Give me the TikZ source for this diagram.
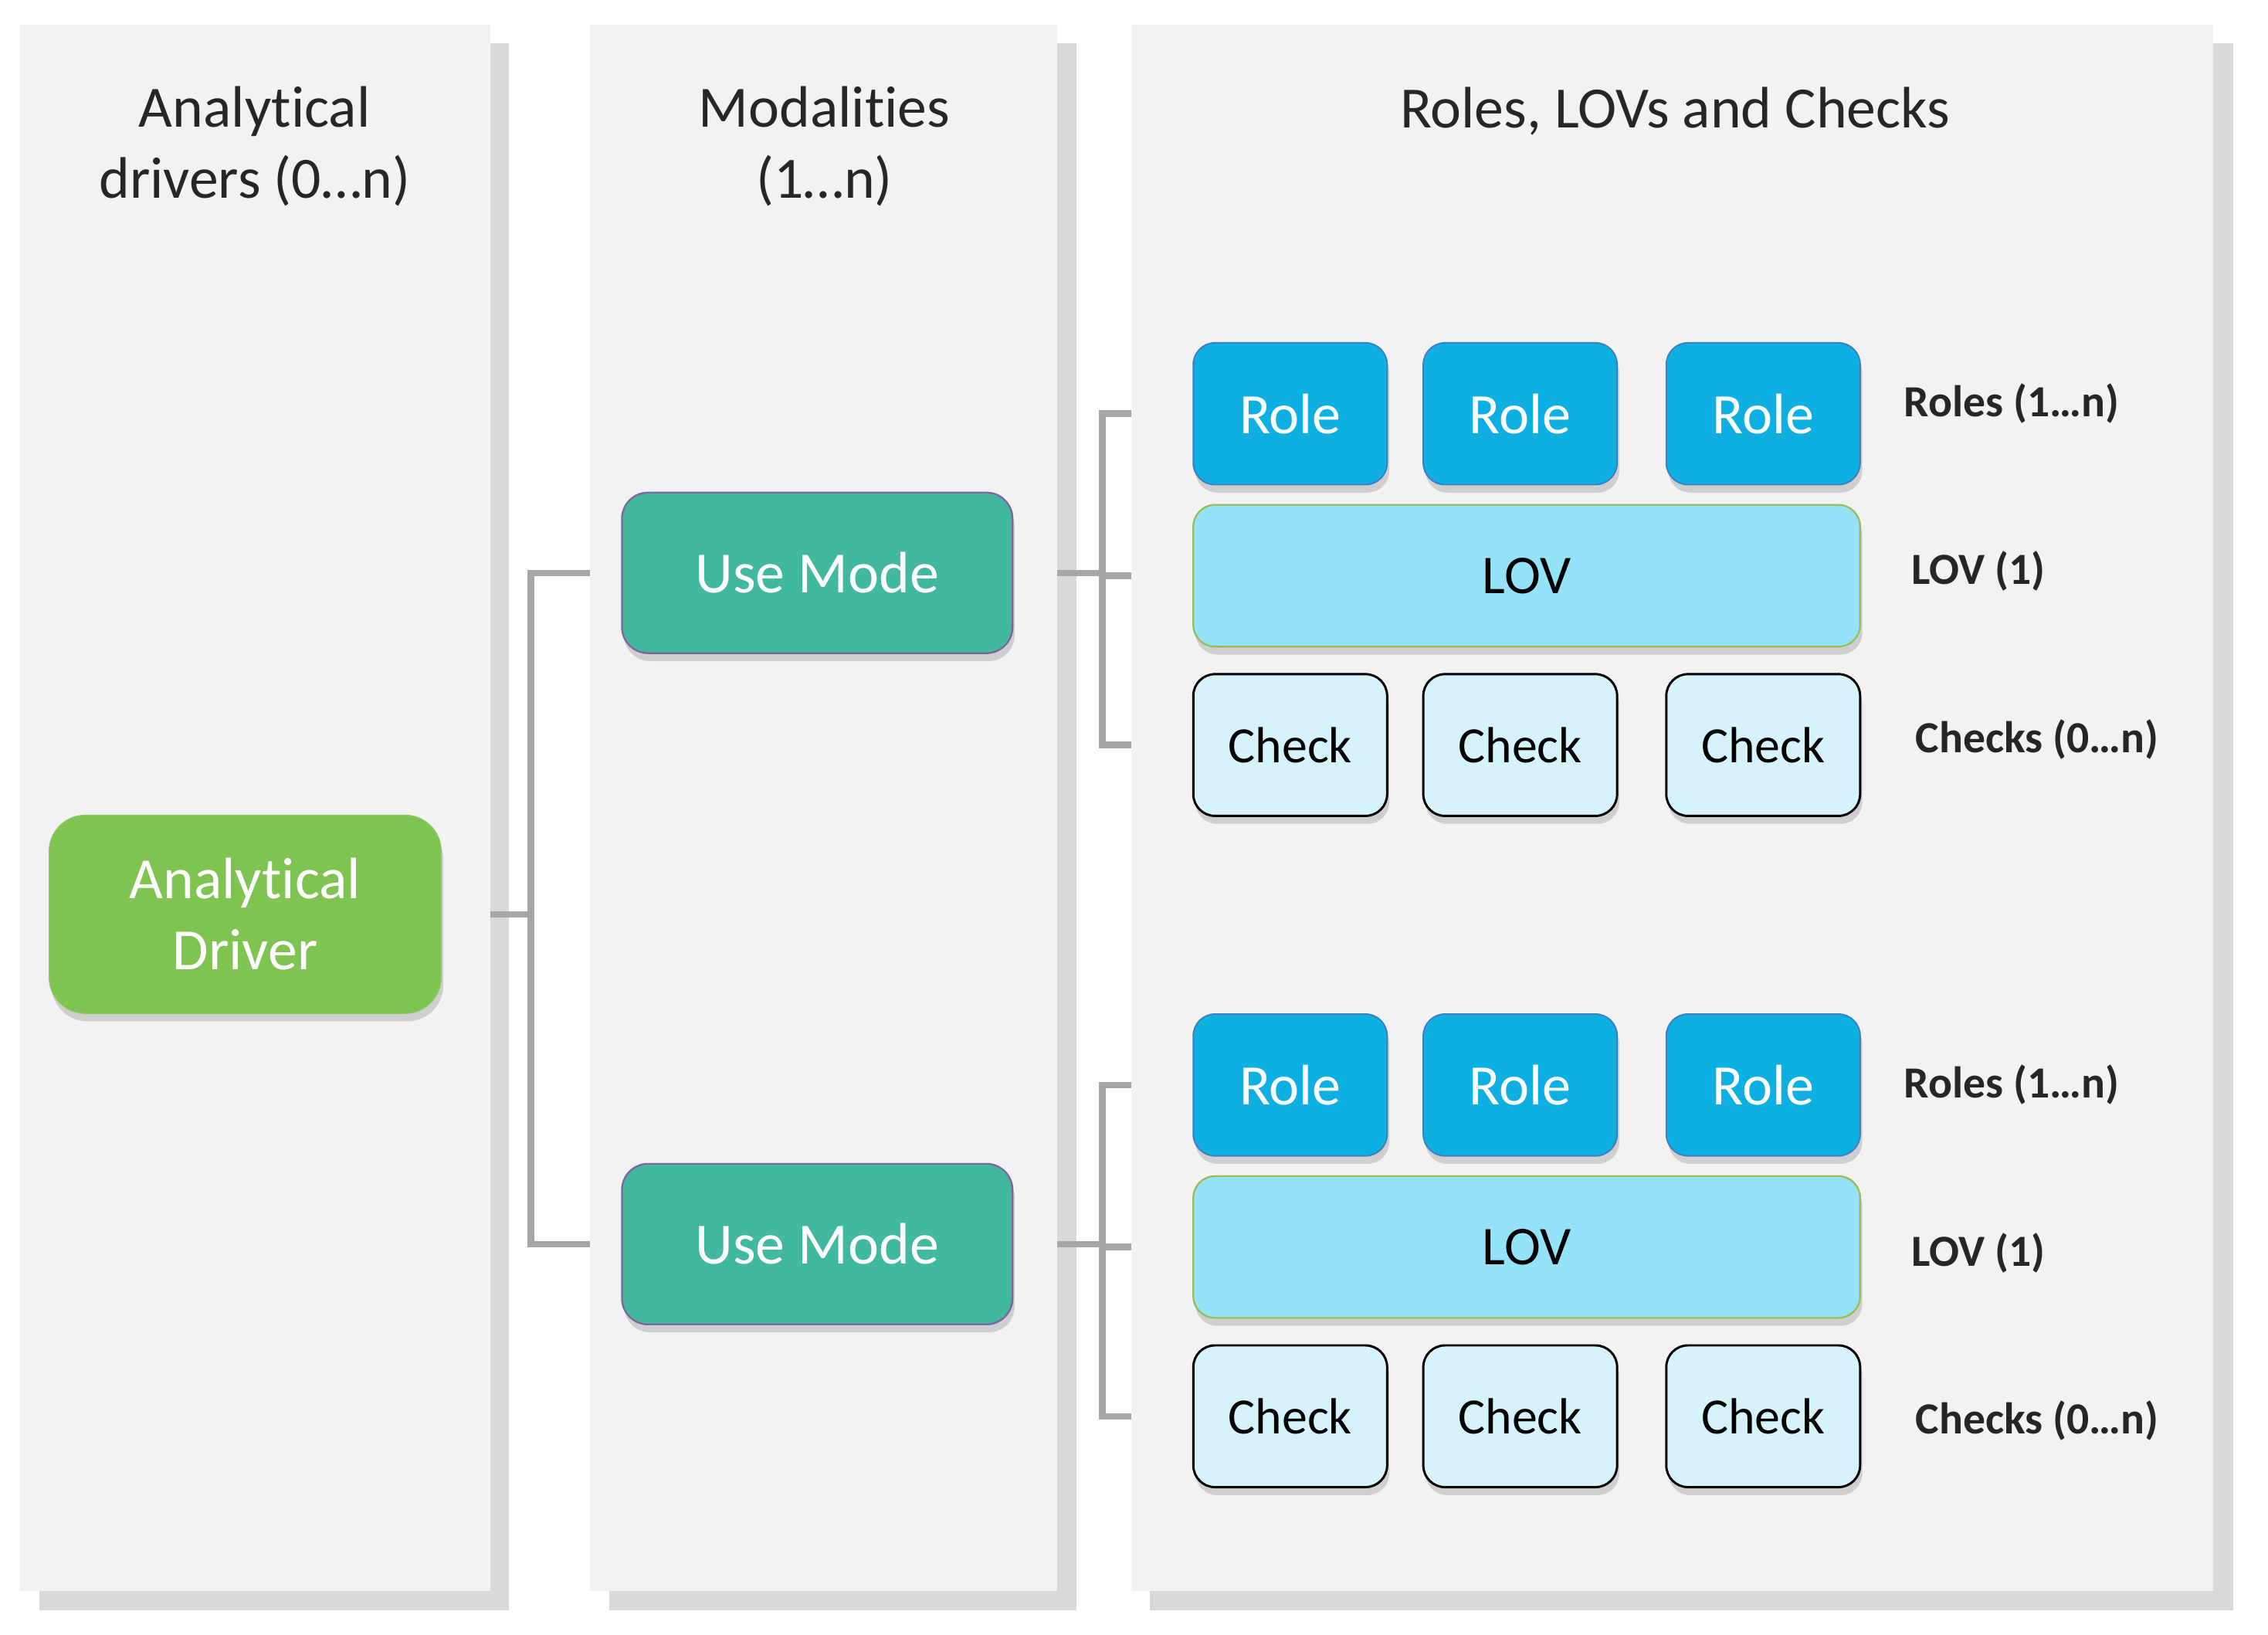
\documentclass[tikz,border=0pt]{standalone}
\usepackage{fontspec}
\setmainfont{Carlito}[Ligatures=NoCommon]
\usepackage{tikz}
\usetikzlibrary{positioning, backgrounds, shadows}
\definecolor{panelfill}{HTML}{F2F2F2}
\definecolor{panelshade}{HTML}{D9D9D9}
\definecolor{titletext}{HTML}{262626}
\definecolor{linkgray}{HTML}{A6A6A6}
\definecolor{drivergreen}{HTML}{7FC350}
\definecolor{modeteal}{HTML}{42B99E}
\definecolor{modeedge}{HTML}{8064A2}
\definecolor{roleblue}{HTML}{0DB0E0}
\definecolor{roleedge}{HTML}{3F7FBF}
\definecolor{lovblue}{HTML}{93E2F8}
\definecolor{lovedge}{HTML}{9BBB59}
\definecolor{checkblue}{HTML}{D6F3FB}
\tikzset{
	paneltitle/.style={font=\fontsize{23}{28}\selectfont\color{titletext}, align=center}
}
\tikzset{
	sidelabel/.style={font=\fontsize{17.5}{21}\selectfont\bfseries\color{titletext}, anchor=west, inner sep=0pt}
}

\begin{document}
\begin{tikzpicture}[x=0.2mm, y=-0.2mm,
    box/.style={inner sep=0pt, align=center, drop shadow={shadow xshift=0.3mm, shadow yshift=-1.1mm, opacity=0.3}},
    rolebox/.style={box, rounded corners=3mm, fill=roleblue, draw=roleedge, line width=0.6pt, text=white, minimum width=26.8mm, minimum height=19.6mm, font=\fontsize{22.5}{27}\selectfont},
    lovbox/.style={box, rounded corners=3mm, fill=lovblue, draw=lovedge, line width=0.7pt, minimum width=92.2mm, minimum height=19.6mm, font=\fontsize{21.5}{26}\selectfont},
    checkbox/.style={box, rounded corners=3mm, fill=checkblue, draw=black, line width=0.9pt, minimum width=26.8mm, minimum height=19.6mm, font=\fontsize{20}{24}\selectfont},
    modebox/.style={box, rounded corners=3.6mm, fill=modeteal, draw=modeedge, line width=0.7pt, text=white, minimum width=54mm, minimum height=22.2mm, font=\fontsize{23}{28}\selectfont},
    link/.style={linkgray, line width=0.9mm}]
      \useasboundingbox (0,0) rectangle (1568,1130);

      \node[paneltitle] (t1) at (176,101) {Analytical\\drivers (0…n)};
      \node[paneltitle] (t2) at (570,101) {Modalities\\(1…n)};
      \node[paneltitle] (t3) at (1158,77) {Roles, LOVs and Checks};

      \node[box, rounded corners=5mm, fill=drivergreen, draw=drivergreen!90!white, text=white, minimum width=54.2mm, minimum height=27.4mm, font=\fontsize{23}{28}\selectfont] (drv) at (169.5,632) {Analytical\\Driver};

      \node[modebox] (um1) at (565,396) {Use Mode};
      \node[modebox] (um2) at (565,860) {Use Mode};

      % first use mode
      \node[rolebox] (role11) at (892,286) {Role};
      \node[rolebox] (role12) at (1051,286) {Role};
      \node[rolebox] (role13) at (1219,286) {Role};
      \node[lovbox] (lov1) at (1055.5,398) {LOV};
      \node[checkbox] (check11) at (892,515) {Check};
      \node[checkbox] (check12) at (1051,515) {Check};
      \node[checkbox] (check13) at (1219,515) {Check};
      \node[sidelabel] (lr1) at (1316,279) {Roles (1…n)};
      \node[sidelabel] (ll1) at (1321,395) {LOV (1)};
      \node[sidelabel] (lc1) at (1324,511) {Checks (0…n)};

      % second use mode
      \node[rolebox] (role21) at (892,750) {Role};
      \node[rolebox] (role22) at (1051,750) {Role};
      \node[rolebox] (role23) at (1219,750) {Role};
      \node[lovbox] (lov2) at (1055.5,862) {LOV};
      \node[checkbox] (check21) at (892,979) {Check};
      \node[checkbox] (check22) at (1051,979) {Check};
      \node[checkbox] (check23) at (1219,979) {Check};
      \node[sidelabel] (lr2) at (1316,750) {Roles (1…n)};
      \node[sidelabel] (ll2) at (1321,866) {LOV (1)};
      \node[sidelabel] (lc2) at (1324,982) {Checks (0…n)};

      \begin{pgfonlayer}{background}
        \fill[white] (0,0) rectangle (1568,1130);
        \fill[panelshade] (27,30) rectangle (352,1113);
        \fill[panelshade] (421,30) rectangle (744,1113);
        \fill[panelshade] (795,30) rectangle (1544,1113);
        % elbow links, partly hidden by the panels
        \coordinate (bus0) at (367,0);
        \coordinate (bus1) at (762,0);
        \draw[link] (drv.east) -- (drv.east -| bus0) |- (um1.west);
        \draw[link] (drv.east) -- (drv.east -| bus0) |- (um2.west);
        \draw[link] (um1.east) -- (um1.east -| bus1) |- (role11.west);
        \draw[link] (um1.east) -- (um1.east -| bus1) |- (lov1.west);
        \draw[link] (um1.east) -- (um1.east -| bus1) |- (check11.west);
        \draw[link] (um2.east) -- (um2.east -| bus1) |- (role21.west);
        \draw[link] (um2.east) -- (um2.east -| bus1) |- (lov2.west);
        \draw[link] (um2.east) -- (um2.east -| bus1) |- (check21.west);
        \fill[panelfill] (14,17) rectangle (339,1100);
        \fill[panelfill] (408,17) rectangle (731,1100);
        \fill[panelfill] (782,17) rectangle (1530,1100);
      \end{pgfonlayer}
    \end{tikzpicture}
\end{document}
